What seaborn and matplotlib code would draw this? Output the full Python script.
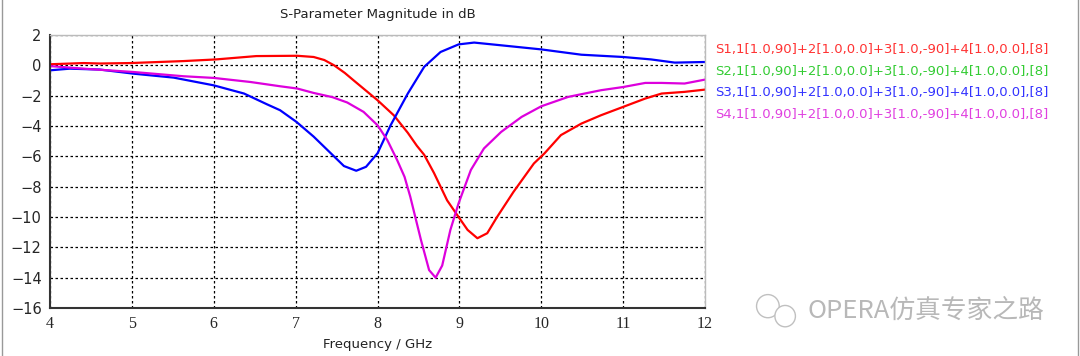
import numpy as np
import pandas as pd
import matplotlib
matplotlib.use('Agg')
import matplotlib.pyplot as plt
import seaborn as sns
from matplotlib.patches import Ellipse, Rectangle

# S1,1 (red)
s11_f = [4.0, 4.41, 4.61, 4.98, 5.63, 6.03, 6.52, 7.02, 7.22, 7.35, 7.47, 7.6, 7.71, 8.0, 8.2, 8.37,
         8.48, 8.57, 8.69, 8.85, 8.99, 9.1, 9.22, 9.34, 9.46, 9.66, 9.91, 10.04, 10.24, 10.49, 10.73, 11.0,
         11.27, 11.47, 11.75, 12.0]
s11_db = [0.07, 0.15, 0.12, 0.15, 0.28, 0.39, 0.61, 0.63, 0.55, 0.35, 0.0, -0.5, -1.0, -2.3, -3.3, -4.45,
          -5.3, -5.9, -7.1, -8.9, -10.0, -10.85, -11.4, -11.07, -10.0, -8.35, -6.47, -5.8, -4.6, -3.84, -3.29, -2.74,
          -2.19, -1.86, -1.75, -1.6]
# S3,1 (blue)
s31_f = [4.0, 4.24, 4.61, 5.02, 5.51, 6.0, 6.37, 6.65, 6.81, 7.01, 7.22, 7.43, 7.59, 7.74, 7.86, 8.0,
         8.16, 8.37, 8.57, 8.77, 8.99, 9.18, 9.51, 10.0, 10.49, 11.0, 11.34, 11.63, 12.0]
s31_db = [-0.33, -0.22, -0.28, -0.55, -0.81, -1.32, -1.86, -2.57, -2.96, -3.73, -4.7, -5.8, -6.64, -6.95, -6.69, -5.8,
          -3.95, -1.86, -0.1, 0.88, 1.38, 1.5, 1.32, 1.05, 0.7, 0.55, 0.39, 0.18, 0.22]
# S4,1 (magenta)
s41_f = [4.0, 4.41, 5.02, 5.63, 6.0, 6.45, 6.81, 7.02, 7.22, 7.45, 7.63, 7.83, 8.0, 8.12, 8.24, 8.33, 8.4,
         8.53, 8.63, 8.71, 8.79, 8.89, 8.99, 9.14, 9.3, 9.51, 9.76, 10.0, 10.33, 10.73, 11.0, 11.27,
         11.47, 11.75, 12.0]
s41_db = [-0.05, -0.22, -0.44, -0.72, -0.83, -1.1, -1.38, -1.53, -1.82, -2.1, -2.45, -3.07, -3.95, -4.93, -6.25, -7.35, -8.66,
          -11.5, -13.5, -14.0, -13.2, -10.85, -9.1, -6.9, -5.48, -4.39, -3.4, -2.7, -2.08, -1.64, -1.43, -1.16,
          -1.16, -1.2, -0.94]

labels = ['S1,1[1.0,90]+2[1.0,0.0]+3[1.0,-90]+4[1.0,0.0],[8]',
          'S2,1[1.0,90]+2[1.0,0.0]+3[1.0,-90]+4[1.0,0.0],[8]',
          'S3,1[1.0,90]+2[1.0,0.0]+3[1.0,-90]+4[1.0,0.0],[8]',
          'S4,1[1.0,90]+2[1.0,0.0]+3[1.0,-90]+4[1.0,0.0],[8]']
label_colors = ['#ff3333', '#33cc33', '#3333ff', '#e040e0']

df = pd.concat([
    pd.DataFrame({'freq': s11_f, 'db': s11_db, 'trace': 'S11'}),
    pd.DataFrame({'freq': s31_f, 'db': s31_db, 'trace': 'S31'}),
    pd.DataFrame({'freq': s41_f, 'db': s41_db, 'trace': 'S41'}),
])

sns.set_style('white')
plt.rcParams['font.family'] = ['DejaVu Sans', 'Noto Sans CJK SC']

fig = plt.figure(figsize=(10.8, 3.56), dpi=100)
ax = fig.add_axes([0.0463, 0.1348, 0.6065, 0.7669])

sns.lineplot(data=df, x='freq', y='db', hue='trace', estimator=None, sort=True,
             palette={'S11': '#ff0000', 'S31': '#0000ff', 'S41': '#dd00dd'},
             linewidth=1.6, legend=False, ax=ax)

ax.set_xlim(4, 12)
ax.set_ylim(-16, 2)
ax.set_xticks(range(4, 13))
ax.set_yticks(range(-16, 3, 2))
ax.grid(True, color='black', linestyle=(0, (2, 2)), linewidth=0.9)
ax.tick_params(axis='both', direction='out', length=4, width=1, color='#333333', pad=2)
ax.tick_params(axis='y', labelsize=10.5)
for t in ax.get_xticklabels():
    t.set_family('Liberation Serif')
    t.set_fontsize(11.5)
ax.set_xlabel('Frequency / GHz', fontsize=9.5, color='#222222', labelpad=4)
ax.set_ylabel('')
ax.set_title('S-Parameter Magnitude in dB', fontsize=9.5, color='#222222', pad=12)
for s in ['top', 'right']:
    ax.spines[s].set_color('#bbbbbb')
    ax.spines[s].set_linewidth(1)
for s in ['left', 'bottom']:
    ax.spines[s].set_color('#333333')
    ax.spines[s].set_linewidth(1.5)

for i, (lab, col) in enumerate(zip(labels, label_colors)):
    fig.text(0.662, 0.862 - i * 0.0615, lab, color=col, fontsize=9.5, va='center', ha='left')

# watermark
fig.text(0.748, 0.126, 'OPERA仿真专家之路', color='#b8b8b8', fontsize=18.5, va='center', ha='left',
         family=['Noto Sans CJK SC', 'DejaVu Sans'])
fig.add_artist(Ellipse((0.711, 0.14), 0.021, 0.065, transform=fig.transFigure, fill=False,
                       edgecolor='#c0c0c0', linewidth=1))
fig.add_artist(Ellipse((0.727, 0.112), 0.019, 0.06, transform=fig.transFigure,
                       edgecolor='#c0c0c0', linewidth=1, facecolor='white'))

# window border
fig.add_artist(Rectangle((0.002, -0.01), 0.996, 1.02, transform=fig.transFigure, fill=False,
                         edgecolor='#999999', linewidth=1))

fig.savefig('out.png', dpi=100)
